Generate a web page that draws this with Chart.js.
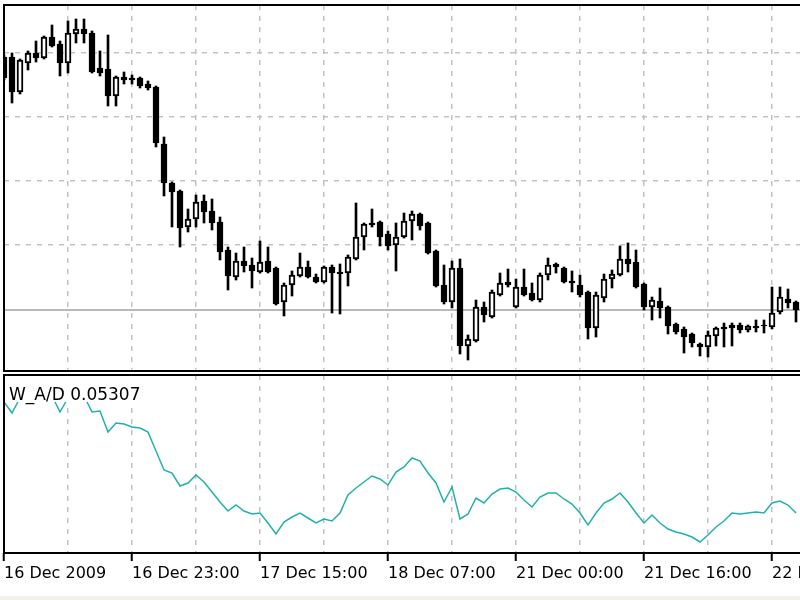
<!DOCTYPE html>
<html>
<head>
<meta charset="utf-8">
<script src="https://cdn.jsdelivr.net/npm/chart.js@4.4.1/dist/chart.umd.min.js"></script>
<style>
  html, body { margin: 0; padding: 0; background: #fff; overflow: hidden; }
  #wrap { position: relative; width: 800px; height: 600px; }
  #price { position: absolute; left: 0; top: 0; }
  #wad { position: absolute; left: 0; top: 374px; }
  #strip { position: absolute; left: 0; top: 596px; width: 800px; height: 4px; background: #f1f1e9; }
</style>
</head>
<body>
<div id="wrap">
  <canvas id="price" width="800" height="374"></canvas>
  <canvas id="wad" width="800" height="222"></canvas>
  <div id="strip"></div>
</div>
<script>
// hourly bars, 16 Dec 2009 -> 22 Dec 2009
const opens = [
  1.4603, 1.4603, 1.4568, 1.4597, 1.4607, 1.4602, 1.4623, 1.4616, 1.4597, 1.4626,
  1.4631, 1.4627, 1.4592, 1.4591, 1.4564, 1.4583, 1.4582, 1.4582, 1.4576, 1.4573,
  1.4516, 1.4477, 1.4469, 1.4433, 1.4441, 1.4459, 1.4449, 1.4438, 1.4410, 1.4383,
  1.4399, 1.4395, 1.4388, 1.4399, 1.4392, 1.4358, 1.4375, 1.4384, 1.4393, 1.4383,
  1.4378, 1.4393, 1.4388, 1.4387, 1.4401, 1.4423, 1.4437, 1.4438, 1.4426, 1.4415,
  1.4423, 1.4439, 1.4446, 1.4437, 1.4409, 1.4375, 1.4358, 1.4392, 1.4314, 1.4319,
  1.4353, 1.4343, 1.4365, 1.4378, 1.4353, 1.4373, 1.4367, 1.4360, 1.4385, 1.4396,
  1.4392, 1.4379, 1.4375, 1.4368, 1.4332, 1.4362, 1.4381, 1.4385, 1.4401, 1.4398,
  1.4376, 1.4353, 1.4359, 1.4353, 1.4336, 1.4331, 1.4326, 1.4316, 1.4313, 1.4324,
  1.4333, 1.4335, 1.4335, 1.4330, 1.4334, 1.4335, 1.4333, 1.4348, 1.4361, 1.4358
];
const highs = [
  1.4605, 1.4607, 1.4601, 1.4609, 1.4619, 1.4624, 1.4635, 1.4619, 1.4639, 1.4641,
  1.4641, 1.4629, 1.4609, 1.4625, 1.4584, 1.4588, 1.4585, 1.4583, 1.4579, 1.4574,
  1.4523, 1.4478, 1.4470, 1.4451, 1.4465, 1.4465, 1.4461, 1.4443, 1.4413, 1.4407,
  1.4413, 1.4402, 1.4419, 1.4413, 1.4393, 1.4377, 1.4389, 1.4407, 1.4399, 1.4386,
  1.4394, 1.4395, 1.4396, 1.4405, 1.4457, 1.4437, 1.4451, 1.4439, 1.4429, 1.4437,
  1.4447, 1.4449, 1.4447, 1.4438, 1.4410, 1.4395, 1.4399, 1.4401, 1.4325, 1.4360,
  1.4358, 1.4370, 1.4387, 1.4391, 1.4381, 1.4391, 1.4377, 1.4387, 1.4402, 1.4397,
  1.4393, 1.4389, 1.4385, 1.4369, 1.4368, 1.4386, 1.4390, 1.4414, 1.4417, 1.4410,
  1.4377, 1.4363, 1.4372, 1.4354, 1.4337, 1.4333, 1.4327, 1.4317, 1.4329, 1.4333,
  1.4337, 1.4337, 1.4337, 1.4335, 1.4340, 1.4340, 1.4373, 1.4373, 1.4371, 1.4359
];
const lows = [
  1.4580, 1.4557, 1.4566, 1.4590, 1.4598, 1.4601, 1.4613, 1.4584, 1.4587, 1.4617,
  1.4617, 1.4587, 1.4584, 1.4554, 1.4554, 1.4576, 1.4576, 1.4572, 1.4570, 1.4513,
  1.4464, 1.4433, 1.4413, 1.4428, 1.4433, 1.4437, 1.4430, 1.4400, 1.4370, 1.4380,
  1.4388, 1.4372, 1.4387, 1.4387, 1.4355, 1.4344, 1.4364, 1.4383, 1.4382, 1.4377,
  1.4377, 1.4347, 1.4346, 1.4374, 1.4400, 1.4410, 1.4433, 1.4414, 1.4410, 1.4389,
  1.4422, 1.4420, 1.4430, 1.4406, 1.4373, 1.4356, 1.4352, 1.4306, 1.4300, 1.4318,
  1.4338, 1.4342, 1.4364, 1.4373, 1.4352, 1.4364, 1.4359, 1.4358, 1.4380, 1.4387,
  1.4377, 1.4368, 1.4363, 1.4321, 1.4323, 1.4358, 1.4372, 1.4384, 1.4388, 1.4372,
  1.4350, 1.4340, 1.4342, 1.4326, 1.4326, 1.4307, 1.4313, 1.4304, 1.4303, 1.4314,
  1.4313, 1.4314, 1.4327, 1.4328, 1.4328, 1.4327, 1.4331, 1.4346, 1.4352, 1.4338
];
const closes = [
  1.4582, 1.4568, 1.4600, 1.4607, 1.4602, 1.4623, 1.4614, 1.4597, 1.4627, 1.4631,
  1.4626, 1.4588, 1.4587, 1.4564, 1.4583, 1.4580, 1.4580, 1.4574, 1.4572, 1.4517,
  1.4477, 1.4468, 1.4432, 1.4441, 1.4458, 1.4448, 1.4437, 1.4408, 1.4384, 1.4399,
  1.4394, 1.4389, 1.4398, 1.4388, 1.4356, 1.4375, 1.4385, 1.4393, 1.4383, 1.4378,
  1.4393, 1.4387, 1.4386, 1.4403, 1.4423, 1.4436, 1.4435, 1.4423, 1.4414, 1.4423,
  1.4439, 1.4446, 1.4434, 1.4407, 1.4374, 1.4358, 1.4392, 1.4314, 1.4321, 1.4353,
  1.4345, 1.4368, 1.4377, 1.4375, 1.4373, 1.4365, 1.4360, 1.4385, 1.4395, 1.4393,
  1.4378, 1.4377, 1.4365, 1.4332, 1.4365, 1.4381, 1.4386, 1.4401, 1.4396, 1.4373,
  1.4353, 1.4360, 1.4352, 1.4334, 1.4328, 1.4323, 1.4317, 1.4313, 1.4325, 1.4332,
  1.4331, 1.4332, 1.4330, 1.4334, 1.4332, 1.4334, 1.4347, 1.4363, 1.4357, 1.4350
];
// Williams Accumulation/Distribution
const wad = [
  0.06417, 0.06307, 0.06457, 0.06497, 0.06517, 0.06537, 0.06477, 0.06317, 0.06457, 0.06497,
  0.06477, 0.06317, 0.06327, 0.06117, 0.06207, 0.06197, 0.06167, 0.06157, 0.06117, 0.05927,
  0.05737, 0.05707, 0.05577, 0.05607, 0.05687, 0.05617, 0.05517, 0.05417, 0.05327, 0.05387,
  0.05327, 0.05297, 0.05307, 0.05207, 0.05097, 0.05217, 0.05267, 0.05307, 0.05257, 0.05207,
  0.05247, 0.05227, 0.05307, 0.05487, 0.05557, 0.05617, 0.05677, 0.05647, 0.05587, 0.05717,
  0.05767, 0.05857, 0.05827, 0.05707, 0.05607, 0.05417, 0.05567, 0.05247, 0.05297, 0.05457,
  0.05407, 0.05497, 0.05547, 0.05557, 0.05517, 0.05437, 0.05367, 0.05467, 0.05507, 0.05507,
  0.05447, 0.05397, 0.05307, 0.05187, 0.05307, 0.05407, 0.05447, 0.05507, 0.05417, 0.05307,
  0.05207, 0.05287, 0.05207, 0.05147, 0.05117, 0.05097, 0.05067, 0.05017, 0.05087, 0.05167,
  0.05227, 0.05307, 0.05297, 0.05307, 0.05317, 0.05307, 0.05407, 0.05427, 0.05387, 0.05307
];
const tickIdx = [0, 16, 32, 48, 64, 80, 96];
const tickLabels = ['16 Dec 2009', '16 Dec 23:00', '17 Dec 15:00', '18 Dec 07:00',
                    '21 Dec 00:00', '21 Dec 16:00', '22 Dec 08:00'];
const gridPrices = [1.4350, 1.4415, 1.4479, 1.4543, 1.4607];

Chart.defaults.font.family = '"DejaVu Sans"';
Chart.defaults.color = '#000';
Chart.defaults.animation = false;

const gridColor = '#c2c2c2';
const gridDash = [5, 6];
const gridIdx = [];
for (let i = 0; i < closes.length; i += 8) gridIdx.push(i);

const xRange = { min: 0, max: 99.5 };

// frame around each pane (left, top, bottom; right side is off screen)
const framePlugin = {
  id: 'frame',
  afterDatasetsDraw(chart, args, opts) {
    const { ctx, chartArea: a } = chart;
    ctx.save();
    if (opts.label) {
      ctx.font = '17px "DejaVu Sans"';
      const w = ctx.measureText(opts.label).width;
      ctx.fillStyle = '#fff';
      ctx.fillRect(a.left + 1, a.top + 1, w + 8, 26);
      ctx.fillStyle = '#000';
      ctx.textBaseline = 'alphabetic';
      ctx.fillText(opts.label, a.left + 5, a.top + 25);
    }
    ctx.strokeStyle = '#000';
    ctx.lineWidth = 2;
    ctx.beginPath();
    ctx.moveTo(a.right + 4, a.top);
    ctx.lineTo(a.left, a.top);
    ctx.lineTo(a.left, a.bottom);
    ctx.lineTo(a.right + 4, a.bottom);
    ctx.stroke();
    ctx.restore();
  }
};

// price pane
const bodies = closes.map((c, i) => ({ x: i, y: [opens[i], c] }));
const wicks = closes.map((c, i) => ({ x: i, y: [lows[i], highs[i]] }));
const bid = closes[closes.length - 1];

new Chart(document.getElementById('price'), {
  type: 'bar',
  data: {
    datasets: [
      {
        data: bodies,
        backgroundColor: closes.map((c, i) => c >= opens[i] ? '#fff' : '#000'),
        borderColor: '#000',
        borderWidth: 2,
        borderSkipped: false,
        barThickness: 6,
        grouped: false,
        order: 1
      },
      {
        data: wicks,
        backgroundColor: '#000',
        borderWidth: 0,
        barThickness: 2,
        grouped: false,
        order: 2
      },
      {
        type: 'line',
        data: [{ x: -1, y: bid }, { x: closes.length, y: bid }],
        borderColor: '#b9b9b9',
        borderWidth: 2,
        pointRadius: 0,
        order: 3
      }
    ]
  },
  options: {
    responsive: false,
    layout: { padding: { left: 4, top: 5, right: 0, bottom: 3 } },
    plugins: { legend: { display: false }, tooltip: { enabled: false }, frame: {} },
    scales: {
      x: {
        type: 'linear',
        offset: false,
        min: xRange.min, max: xRange.max,
        afterBuildTicks: s => { s.ticks = gridIdx.map(v => ({ value: v })); },
        ticks: { display: false },
        grid: { offset: false, color: gridColor, lineWidth: 1.5, drawTicks: false },
        border: { display: false, dash: gridDash }
      },
      y: {
        min: 1.4289, max: 1.4655,
        afterBuildTicks: s => { s.ticks = gridPrices.map(v => ({ value: v })); },
        ticks: { display: false },
        grid: { color: gridColor, lineWidth: 1.5, drawTicks: false },
        border: { display: false, dash: gridDash }
      }
    }
  },
  plugins: [framePlugin]
});

// W_A/D pane
new Chart(document.getElementById('wad'), {
  type: 'line',
  data: {
    datasets: [{
      data: wad.map((v, i) => ({ x: i, y: v })),
      borderColor: '#20b2aa',
      borderWidth: 1.5,
      pointRadius: 0,
      tension: 0
    }]
  },
  options: {
    responsive: false,
    layout: { padding: { left: 4, top: 1, right: 0, bottom: 0 } },
    plugins: {
      legend: { display: false }, tooltip: { enabled: false },
      frame: { label: 'W_A/D ' + wad[wad.length - 1].toFixed(5) }
    },
    scales: {
      x: {
        type: 'linear',
        offset: false,
        min: xRange.min, max: xRange.max,
        afterBuildTicks: s => { s.ticks = gridIdx.map(v => ({ value: v })); },
        afterFit: s => { s.height = 43; s.paddingLeft = 0; s.paddingRight = 0; },
        ticks: {
          autoSkip: false, maxRotation: 0, align: 'start', padding: 3,
          font: { size: 16 },
          callback: v => { const j = tickIdx.indexOf(v); return j < 0 ? '' : tickLabels[j]; }
        },
        grid: {
          offset: false, color: gridColor, lineWidth: 1.5, tickLength: 8, tickWidth: 2,
          tickColor: c => tickIdx.includes(c.tick.value) ? '#000' : 'rgba(0,0,0,0)'
        },
        border: { display: false, dash: gridDash }
      },
      y: {
        display: false,
        min: 0.04907, max: 0.06687
      }
    }
  },
  plugins: [framePlugin]
});
</script>
</body>
</html>
